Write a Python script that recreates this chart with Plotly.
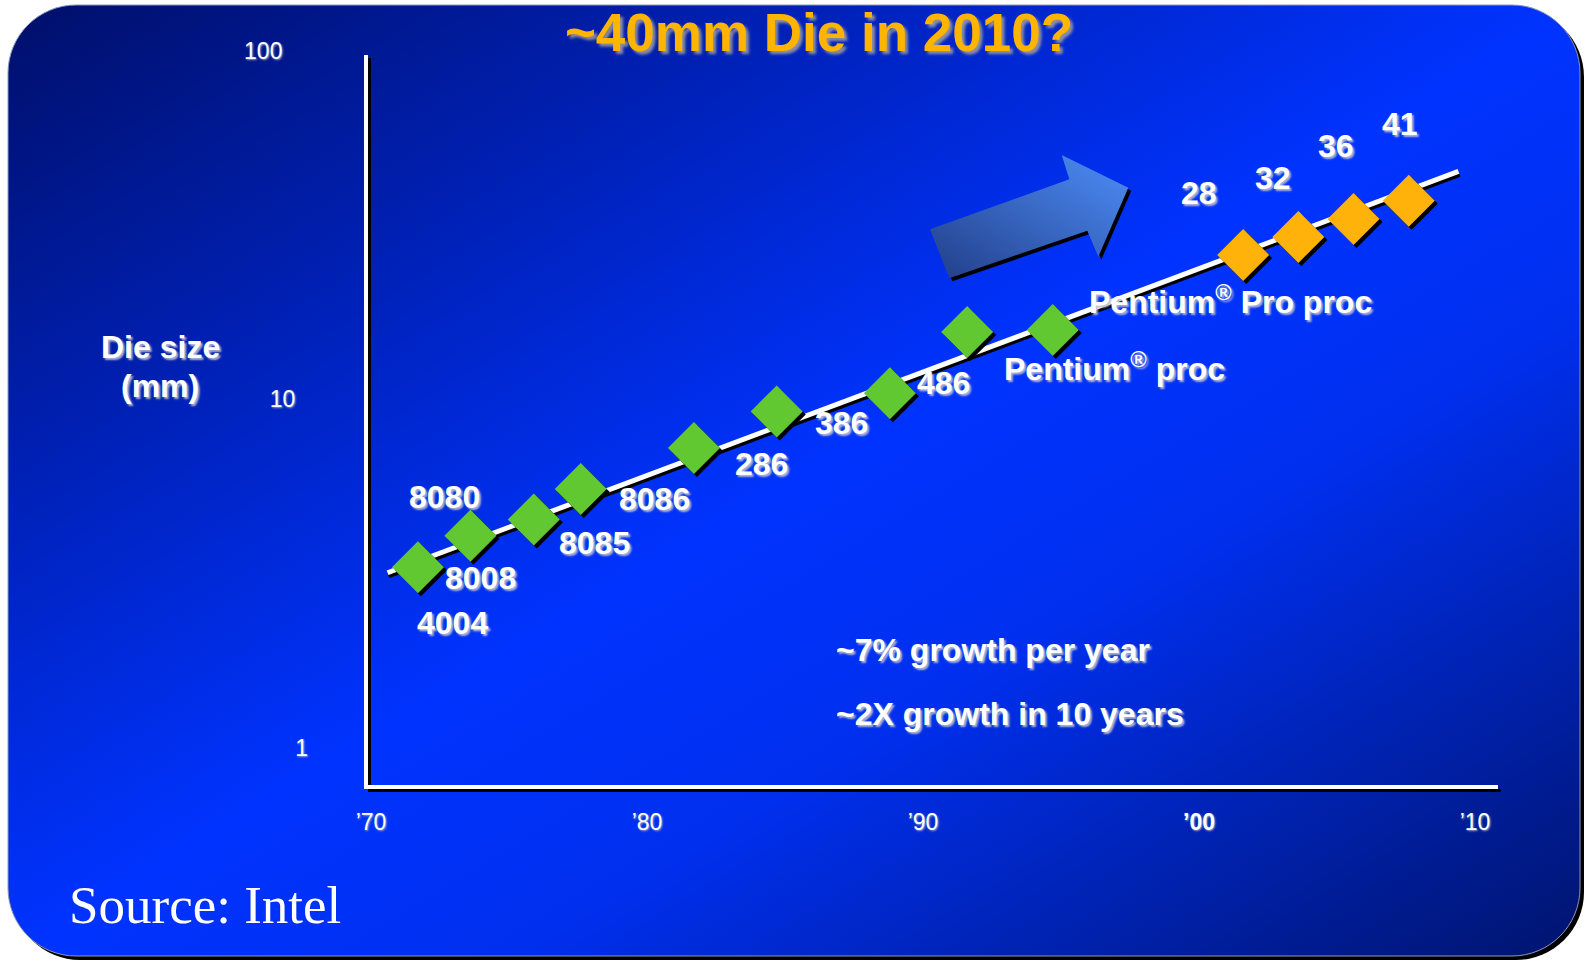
import base64
import math
import plotly.graph_objects as go

# ---------------- data ----------------
green_years = [1971.7, 1973.6, 1975.9, 1977.6, 1981.7, 1984.7, 1988.8, 1991.6, 1994.7]
green_mm = [3.30, 4.06, 4.52, 5.53, 7.25, 9.23, 10.4, 15.6, 15.8]
orange_years = [2001.6, 2003.6, 2005.6, 2007.6]
orange_mm = [25.9, 29.2, 32.9, 37.1]
trend_years = [1970.6, 2009.4]
trend_mm = [3.18, 45.0]

chip_names = ["4004", "8008", "8080", "8085", "8086", "286", "386", "486",
              "Pentium<sup>®</sup> proc", "Pentium<sup>®</sup> Pro proc"]
chip_point_index = [0, 1, 1, 2, 3, 4, 5, 6, 8, 8]
future_die_labels = ["28", "32", "36", "41"]

x_tick_vals = [1970, 1980, 1990, 2000, 2010]
x_tick_text = ["’70", "’80", "’90", "<b>’00</b>", "’10"]
y_tick_vals = [1, 10, 100]
y_tick_text = ["1", "10", "100"]

title_text = "~40mm Die in 2010?"
y_label_lines = ["Die size", "(mm)"]
growth_texts = ["~7% growth per year", "~2X growth in 10 years"]
source_text = "Source: Intel"

# ---------------- layout geometry / styles ----------------
W_FIG, H_FIG = 1585, 961
PL, PR, PT, PB = 366, 1498, 48, 787
PW, PH = PR - PL, PB - PT
PX_PER_YEAR = 27.6
PX_PER_DECADE = 348.75
X_RANGE = [1970 + (PL - 371) / PX_PER_YEAR, 1970 + (PR - 371) / PX_PER_YEAR]
Y_RANGE = [2 - (PB - 50.5) / PX_PER_DECADE, 2 - (PT - 50.5) / PX_PER_DECADE]


def pxx(x):
    return (x - PL) / PW


def pxy(y):
    return (PB - y) / PH


SANS = "Liberation Sans, Arial, sans-serif"
SERIF = "Liberation Serif, Times New Roman, serif"
WHITE_SHADOW = "2px 2px 2px rgba(185,190,210,0.95)"
GREEN = "#62C832"
ORANGE = "#FFB30A"
MARKER_SIZE = 40
LABEL_SIZE = 32
NBSP = "\u00a0"
# y tick labels in the reference are staggered, not right aligned
y_tick_pad = [0, 2, 4]

# label offsets (pixels) relative to the point they belong to
chip_offsets = [(35, -56), (10, -42), (-26, 39), (61, -23), (74, -10), (68, -16),
                (65, -12), (54, 10), (62, -37), (178, 30)]
future_offsets = [(-44, 62), (-25, 59), (-18, 73), (-9, 77)]

# ---------------- background image (slide) ----------------
svg = f"""<svg xmlns='http://www.w3.org/2000/svg' width='{W_FIG}' height='{H_FIG}' viewBox='0 0 {W_FIG} {H_FIG}' preserveAspectRatio='none'>
<defs>
<linearGradient id='bg' x1='0' y1='0' x2='1' y2='1'>
<stop offset='0' stop-color='#000f6a'/>
<stop offset='0.3' stop-color='#0024c4'/>
<stop offset='0.5' stop-color='#0033ff'/>
<stop offset='0.66' stop-color='#002fee'/>
<stop offset='1' stop-color='#00146e'/>
</linearGradient>
<linearGradient id='ar' x1='0' y1='1' x2='1' y2='0'>
<stop offset='0' stop-color='#213e88'/>
<stop offset='1' stop-color='#4e8ef9'/>
</linearGradient>
</defs>
<rect width='{W_FIG}' height='{H_FIG}' fill='#ffffff'/>
<rect x='12' y='9' width='1572' height='951' rx='68' fill='#000000'/>
<rect x='8' y='5' width='1572' height='951' rx='68' fill='url(#bg)' stroke='#8e97bb' stroke-width='1'/>
<polygon points='952.3,281.3 933,232.3 1072.3,182.3 1064.7,158 1131.3,190.7 1101.3,259.7 1090.3,233.7' fill='#000000'/>
<polygon points='949.3,278.3 930,229.3 1069.3,179.3 1061.7,155 1128.3,187.7 1098.3,256.7 1087.3,230.7' fill='url(#ar)'/>
</svg>"""
svg_uri = "data:image/svg+xml;base64," + base64.b64encode(svg.encode("utf-8")).decode("ascii")

fig = go.Figure()

# shadow offsets derived from the data scales
dx_sh = 3 / PX_PER_YEAR
fy_sh = 10 ** (-3 / PX_PER_DECADE)

# trend line with shadow
fig.add_trace(go.Scatter(x=[v + 1 / PX_PER_YEAR for v in trend_years], y=[v * fy_sh for v in trend_mm],
                         mode="lines", line=dict(color="#000000", width=5), hoverinfo="skip", showlegend=False))
fig.add_trace(go.Scatter(x=trend_years, y=trend_mm, mode="lines", line=dict(color="#ffffff", width=5),
                         name="trend", showlegend=False))

# diamond shadows
fig.add_trace(go.Scatter(x=[v + dx_sh for v in green_years + orange_years],
                         y=[v * fy_sh for v in green_mm + orange_mm], mode="markers",
                         marker=dict(symbol="diamond", size=MARKER_SIZE, color="#000000", line=dict(width=0)),
                         hoverinfo="skip", showlegend=False))
fig.add_trace(go.Scatter(x=green_years, y=green_mm, mode="markers", name="actual",
                         marker=dict(symbol="diamond", size=MARKER_SIZE, color=GREEN, line=dict(width=0)),
                         showlegend=False))
fig.add_trace(go.Scatter(x=orange_years, y=orange_mm, mode="markers", name="projected",
                         marker=dict(symbol="diamond", size=MARKER_SIZE, color=ORANGE, line=dict(width=0)),
                         showlegend=False))

annotations = []
label_font = dict(family=SANS, size=LABEL_SIZE, color="#ffffff", weight="bold", shadow=WHITE_SHADOW)
for name, idx, (dx, dy) in zip(chip_names, chip_point_index, chip_offsets):
    annotations.append(dict(x=green_years[idx], y=math.log10(green_mm[idx]), xref="x", yref="y",
                            text=name, showarrow=False, xshift=dx, yshift=dy,
                            xanchor="center", yanchor="middle", font=label_font))
for i, (name, (dx, dy)) in enumerate(zip(future_die_labels, future_offsets)):
    annotations.append(dict(x=orange_years[i], y=math.log10(orange_mm[i]), xref="x", yref="y",
                            text=name, showarrow=False, xshift=dx, yshift=dy,
                            xanchor="center", yanchor="middle", font=label_font))

# y-axis label (two lines)
for txt, yy in zip(y_label_lines, [346.5, 385.5]):
    annotations.append(dict(x=pxx(160.5), y=pxy(yy), xref="paper", yref="paper", text=txt,
                            showarrow=False, xanchor="center", yanchor="middle", font=label_font))
# growth notes
for txt, yy in zip(growth_texts, [650, 714]):
    annotations.append(dict(x=pxx(834), y=pxy(yy), xref="paper", yref="paper", text=txt,
                            showarrow=False, xanchor="left", yanchor="middle", font=label_font))
# source
annotations.append(dict(x=pxx(67), y=pxy(905), xref="paper", yref="paper", text=source_text,
                        showarrow=False, xanchor="left", yanchor="middle",
                        font=dict(family=SERIF, size=53, color="#ffffff")))

shapes = [
    dict(type="line", xref="paper", yref="paper", x0=pxx(369.5), x1=pxx(369.5), y0=pxy(790), y1=pxy(58),
         line=dict(color="#000000", width=3)),
    dict(type="line", xref="paper", yref="paper", x0=pxx(368), x1=pxx(1501), y0=pxy(790.5), y1=pxy(790.5),
         line=dict(color="#000000", width=3)),
    dict(type="line", xref="paper", yref="paper", x0=pxx(366), x1=pxx(366), y0=pxy(789), y1=pxy(55),
         line=dict(color="#ffffff", width=4)),
    dict(type="line", xref="paper", yref="paper", x0=pxx(364), x1=pxx(1498), y0=pxy(787), y1=pxy(787),
         line=dict(color="#ffffff", width=4)),
]

tick_font = dict(family=SANS, size=23, color="#ffffff", shadow="1px 1px 2px rgba(170,175,200,0.9)")

fig.update_layout(
    width=W_FIG, height=H_FIG,
    margin=dict(l=PL, r=W_FIG - PR, t=PT, b=H_FIG - PB, autoexpand=False),
    paper_bgcolor="#ffffff", plot_bgcolor="rgba(0,0,0,0)",
    title=dict(text=title_text, x=819 / W_FIG, y=1 - 32.5 / H_FIG, xref="container", yref="container",
               xanchor="center", yanchor="middle",
               font=dict(family=SANS, size=53, color="#FFB400", weight="bold",
                         shadow="3px 3px 3px rgba(150,150,160,0.95)")),
    xaxis=dict(range=X_RANGE, showgrid=False, zeroline=False, showline=False, ticks="",
               tickmode="array", tickvals=x_tick_vals, ticktext=x_tick_text, tickfont=tick_font,
               ticklabelstandoff=19, fixedrange=True),
    yaxis=dict(type="log", range=Y_RANGE, showgrid=False, zeroline=False, showline=False, ticks="",
               tickmode="array", tickvals=y_tick_vals,
               ticktext=[t + NBSP * p for t, p in zip(y_tick_text, y_tick_pad)], tickfont=tick_font,
               ticklabelstandoff=57, fixedrange=True),
    images=[dict(source=svg_uri, xref="paper", yref="paper", x=pxx(0), y=pxy(0),
                 sizex=W_FIG / PW, sizey=H_FIG / PH, xanchor="left", yanchor="top",
                 sizing="stretch", layer="below")],
    annotations=annotations,
    shapes=shapes,
    showlegend=False,
)

fig.write_html("out.html")
